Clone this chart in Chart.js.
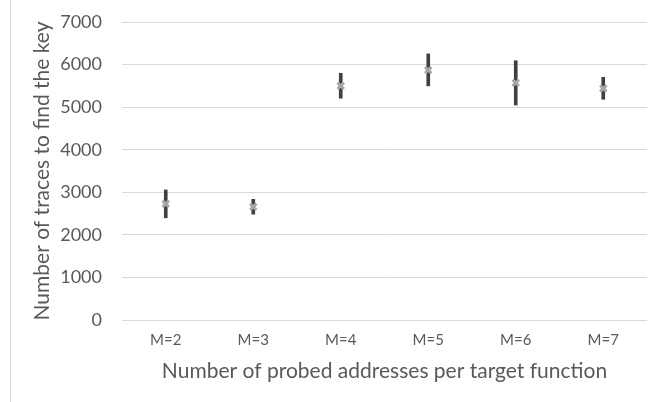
<!DOCTYPE html>
<html><head><meta charset="utf-8">
<script src="https://cdn.jsdelivr.net/npm/chart.js@4.4.0/dist/chart.umd.min.js"></script>
<style>
html,body{margin:0;padding:0;background:#fff;}
#wrap{position:relative;width:656px;height:402px;}
#frame{position:absolute;left:10px;top:0;width:646px;height:402px;border-left:1px solid #d9d9d9;box-sizing:border-box;}
canvas{position:absolute;left:0;top:0;}
</style></head>
<body>
<div id="wrap"><div id="frame"></div><canvas id="c" width="656" height="402"></canvas></div>
<script>
const categories = ["M=2","M=3","M=4","M=5","M=6","M=7"];
const meanTraces = [2730, 2660, 5500, 5870, 5570, 5440];
const errLow = [2400, 2485, 5210, 5500, 5050, 5185];
const errHigh = [3055, 2835, 5795, 6250, 6090, 5700];
const yTicks = [0,1000,2000,3000,4000,5000,6000,7000];

const FONT = "Lato, 'Open Sans', sans-serif";
const GRAY = '#595959';

new Chart(document.getElementById('c'), {
  data: {
    labels: categories,
    datasets: [
      { type: 'line', data: meanTraces, showLine: false, pointStyle: 'crossRot', pointRadius: 4.5, pointBorderWidth: 3, pointBorderColor: '#a6a6a6', pointBackgroundColor: '#a6a6a6', order: 0 },
      { type: 'bar', data: errLow.map((v,i)=>[v, errHigh[i]]), backgroundColor: '#404040', barThickness: 3, order: 1 }
    ]
  },
  options: {
    responsive: false, animation: false,
    layout: { padding: { left: 30, right: 9, top: 22, bottom: 18 } },
    plugins: { legend: { display: false }, tooltip: { enabled: false } },
    scales: {
      x: { type: 'category', offset: true, grid: { display: false, drawTicks: false }, border: { display: false },
        ticks: { color: GRAY, font: { family: FONT, size: 15 }, padding: 11 },
        title: { display: true, text: 'Number of probed addresses per target function', color: GRAY, font: { family: FONT, size: 21 }, padding: { top: 2, bottom: 0 } },
        afterFit: s => { s.height = 402 - 320 - 18; } },
      y: { min: 0, max: 7000, afterBuildTicks: s => { s.ticks = yTicks.map(v => ({ value: v })); },
        grid: { color: '#d9d9d9', lineWidth: 1, drawTicks: false }, border: { display: false },
        ticks: { color: GRAY, font: { family: FONT, size: 18 }, padding: 20, callback: v => String(v) },
        title: { display: true, text: 'Number of traces to find the key', color: GRAY, font: { family: FONT, size: 21 }, padding: { top: 0, bottom: 6 } },
        afterFit: s => { s.width = 122 - 30; s.paddingTop = 0; s.paddingBottom = 0; } }
    }
  }
});
</script>
</body></html>
